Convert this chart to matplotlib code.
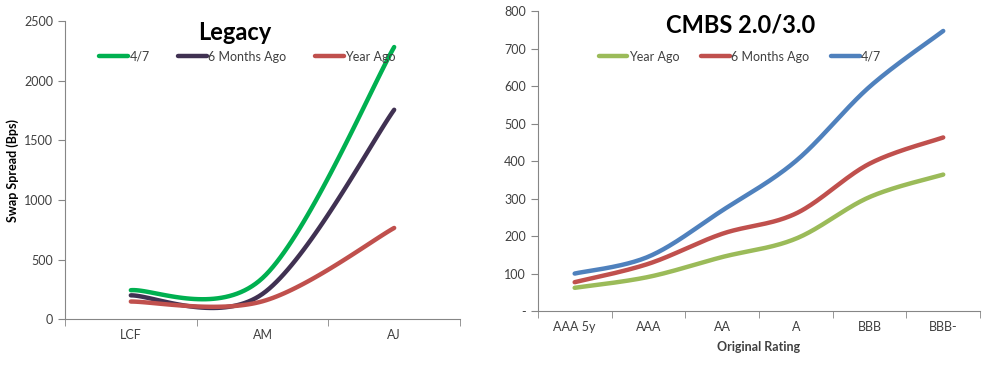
import numpy as np
import matplotlib
matplotlib.use("Agg")
import matplotlib.pyplot as plt

plt.rcParams['font.family'] = ['Lato', 'DejaVu Sans']

# Legacy panel
legacy_cats = ['LCF', 'AM', 'AJ']
legacy_now = [243, 345, 2282]
legacy_6m = [200, 212, 1756]
legacy_year = [148, 150, 765]

# CMBS 2.0/3.0 panel
cmbs_cats = ['AAA 5y', 'AAA', 'AA', 'A', 'BBB', 'BBB-']
cmbs_year = [62, 91, 144, 193, 304, 364]
cmbs_6m = [77, 126, 206, 260, 393, 463]
cmbs_now = [100, 145, 268, 400, 598, 747]

TICK_COLOR = '#404040'
SPINE_COLOR = '#868686'


def smooth(y, n=40):
    """Excel-like smoothed line (Catmull-Rom drawn as cubic Bezier)."""
    y = np.asarray(y, dtype=float)
    pts = np.column_stack([np.arange(len(y), dtype=float), y])
    xs, ys = [], []
    t = np.linspace(0, 1, n)[:, None]
    for i in range(len(pts) - 1):
        p0 = pts[i - 1] if i > 0 else pts[i]
        p1, p2 = pts[i], pts[i + 1]
        p3 = pts[i + 2] if i + 2 < len(pts) else pts[i + 1]
        c1 = p1 + (p2 - p0) / 6
        c2 = p2 - (p3 - p1) / 6
        b = (1 - t) ** 3 * p1 + 3 * (1 - t) ** 2 * t * c1 + 3 * (1 - t) * t ** 2 * c2 + t ** 3 * p2
        xs.extend(b[:, 0])
        ys.extend(b[:, 1])
    return np.array(xs), np.array(ys)


def style_axes(ax, cats):
    ncat = len(cats)
    ax.set_xlim(-0.5, ncat - 0.5)
    ax.set_xticks(range(ncat))
    ax.set_xticklabels(cats)
    ax.set_xticks(np.arange(-0.5, ncat, 1.0), minor=True)
    ax.tick_params(axis='x', which='major', length=0, pad=7, labelsize=9, colors=TICK_COLOR)
    ax.tick_params(axis='x', which='minor', length=5, color=SPINE_COLOR)
    ax.tick_params(axis='y', length=5, color=SPINE_COLOR, labelsize=9, labelcolor=TICK_COLOR)
    for s in ['top', 'right']:
        ax.spines[s].set_visible(False)
    for s in ['left', 'bottom']:
        ax.spines[s].set_color(SPINE_COLOR)


fig = plt.figure(figsize=(9.85, 3.69), dpi=100)

# Left: Legacy
ax1 = fig.add_axes([0.066, 0.135, 0.401, 0.808])
for vals, color, label in [(legacy_now, '#00B050', '4/7'),
                           (legacy_6m, '#403152', '6 Months Ago'),
                           (legacy_year, '#C0504D', 'Year Ago')]:
    xs, ys = smooth(vals)
    ax1.plot(xs, ys, color=color, lw=3.2, label=label, solid_capstyle='round')
style_axes(ax1, legacy_cats)
ax1.set_ylim(0, 2500)
ax1.set_yticks(range(0, 2501, 500))
ax1.set_ylabel('Swap Spread (Bps)', fontsize=9, fontweight='bold', labelpad=4)
ax1.text(0.43, 0.96, 'Legacy', transform=ax1.transAxes, ha='center', va='center',
         fontsize=17, fontweight='bold')
ax1.legend(loc='center', bbox_to_anchor=(0.462, 0.88), ncol=3, frameon=False,
           fontsize=9, handlelength=2.3, handletextpad=0.1, columnspacing=2.3,
           labelcolor=TICK_COLOR)

# Right: CMBS 2.0/3.0
ax2 = fig.add_axes([0.546, 0.157, 0.449, 0.813])
for vals, color, label in [(cmbs_year, '#9BBB59', 'Year Ago'),
                           (cmbs_6m, '#C0504D', '6 Months Ago'),
                           (cmbs_now, '#4F81BD', '4/7')]:
    xs, ys = smooth(vals)
    ax2.plot(xs, ys, color=color, lw=3.2, label=label, solid_capstyle='round')
style_axes(ax2, cmbs_cats)
ax2.set_ylim(0, 800)
ax2.set_yticks(range(0, 801, 100))
ax2.set_yticklabels(['-'] + [str(v) for v in range(100, 801, 100)])
ax2.set_xlabel('Original Rating', fontsize=9, fontweight='bold', labelpad=6, color=TICK_COLOR)
ax2.text(0.459, 0.955, 'CMBS 2.0/3.0', transform=ax2.transAxes, ha='center', va='center',
         fontsize=17, fontweight='bold')
ax2.legend(loc='center', bbox_to_anchor=(0.457, 0.848), ncol=3, frameon=False,
           fontsize=9, handlelength=2.3, handletextpad=0.1, columnspacing=1.75,
           labelcolor=TICK_COLOR)

fig.savefig('out.png', dpi=100)
